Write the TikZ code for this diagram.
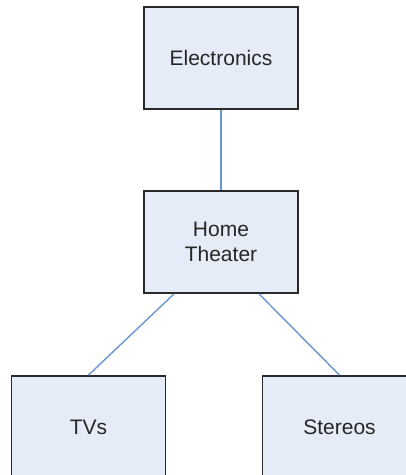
\documentclass[tikz,border=0pt]{standalone}
\usepackage{fontspec}
\setmainfont{Liberation Sans}
\definecolor{boxfill}{HTML}{E6ECF7}
\definecolor{boxline}{HTML}{2A2A2A}
\definecolor{linkblue}{HTML}{6A94D2}
\begin{document}
\begin{tikzpicture}[x=1pt,y=-1pt,
  catbox/.style={draw=boxline, fill=boxfill, line width=1.8pt, minimum width=154pt, minimum height=102pt, inner sep=0pt, align=center, font=\fontsize{21}{25}\selectfont, text=black!85},
  link/.style={draw=linkblue, line width=1.4pt}]
\useasboundingbox (0,0) rectangle (406,475);
\clip (0,0) rectangle (406,475);
\node[catbox] (el) at (221,58) {Electronics};
\node[catbox] (ht) at (221,242) {Home\\Theater};
\node[catbox] (tv) at (88.5,427) {TVs};
\node[catbox] (st) at (339.5,427) {Stereos};
\draw[link] (el.south) -- (ht.north);
\draw[link] ([xshift=-47pt]ht.south) -- (tv.north);
\draw[link] ([xshift=38pt]ht.south) -- (st.north);
\end{tikzpicture}
\end{document}
